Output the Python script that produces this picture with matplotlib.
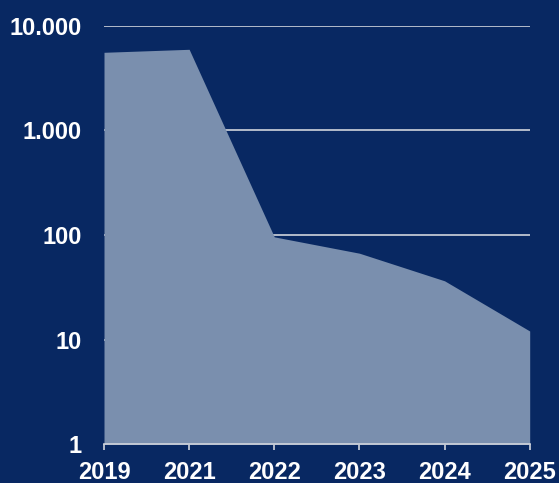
import matplotlib.pyplot as plt
import numpy as np

BG = "#082862"
FILL = "#7a8fae"
LINE = "#d0d4dc"

years = ["2019", "2021", "2022", "2023", "2024", "2025"]
values = [5570, 5950, 96, 67, 36.5, 12.1]
yticks = [1, 10, 100, 1000, 10000]
ylabels = ["1", "10", "100", "1.000", "10.000"]

plt.rcParams["font.family"] = ["Liberation Sans", "DejaVu Sans"]
plt.rcParams["font.weight"] = "bold"

fig = plt.figure(figsize=(5.59, 4.83), dpi=100, facecolor=BG)
ax = fig.add_axes([104 / 559, 38.7 / 483, (529.7 - 104) / 559, (457.3 - 38.7) / 483])
ax.set_facecolor(BG)

x = np.arange(len(years))
ax.set_yscale("log")
ax.set_ylim(1, 10000)
ax.set_xlim(0, len(years) - 1)

for t in yticks[1:]:
    ax.axhline(t, color=LINE, lw=1.2, zorder=1)
ax.fill_between(x, 1, values, color=FILL, lw=0, zorder=2)

ax.set_xticks(x)
ax.set_xticklabels(years)
ax.set_yticks(yticks)
ax.set_yticklabels(ylabels)
ax.yaxis.set_minor_locator(plt.NullLocator())

for s in ["top", "right", "left"]:
    ax.spines[s].set_visible(False)
ax.spines["bottom"].set_color(LINE)
ax.spines["bottom"].set_linewidth(1.2)
ax.spines["bottom"].set_zorder(3)

ax.tick_params(axis="x", colors=LINE, length=4, width=1.2, pad=8,
               labelcolor="white", labelsize=17)
ax.tick_params(axis="y", length=0, pad=16, labelcolor="white", labelsize=17)
for lab in ax.get_xticklabels() + ax.get_yticklabels():
    lab.set_fontweight("bold")

fig.savefig("out.png", facecolor=BG)
